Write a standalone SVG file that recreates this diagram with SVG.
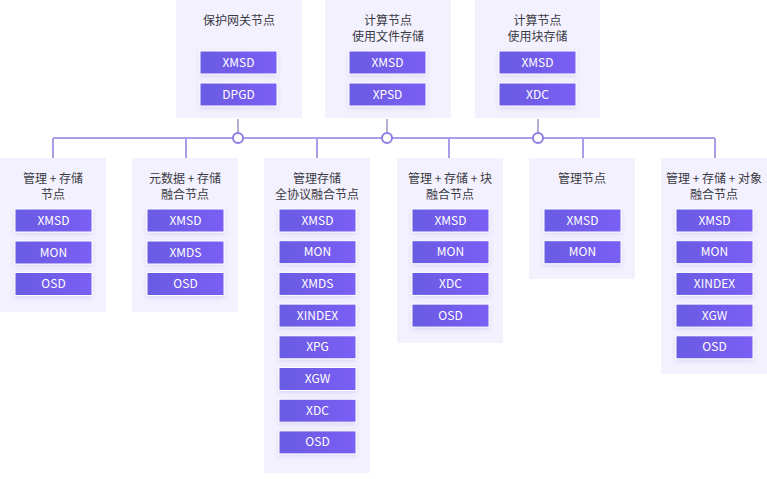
<svg xmlns="http://www.w3.org/2000/svg" width="767" height="479" viewBox="0 0 767 479">
<defs>
<linearGradient id="btnGrad" x1="0" y1="0" x2="1" y2="0">
<stop offset="0" stop-color="#6a5be2"/>
<stop offset="1" stop-color="#7a5ef4"/>
</linearGradient>
<filter id="sh" x="-20%" y="-30%" width="140%" height="170%">
<feDropShadow dx="0" dy="2" stdDeviation="2" flood-color="#6a5be2" flood-opacity="0.18"/>
</filter>
</defs>
<style>
.box{fill:#f3f1fd}
.btn{fill:url(#btnGrad);stroke:#ffffff;stroke-width:1;filter:url(#sh)}
.title{font-family:"Noto Sans CJK SC","Noto Sans",sans-serif;font-size:12px;fill:#3a3a44;text-anchor:middle}
.lbl{font-family:"Noto Sans CJK SC","Noto Sans",sans-serif;font-size:12px;fill:#ffffff;text-anchor:middle}
.ln{stroke:#a99ce8;stroke-width:2;fill:none}
.stem{stroke:#9d94c9;stroke-width:1.5;fill:none}
.dot{fill:#ffffff;stroke:#8d7ce2;stroke-width:2}
</style>
<rect width="767" height="479" fill="#ffffff"/>

<g id="connectors">
<line class="ln" x1="53" y1="138" x2="715" y2="138"/>
<line class="ln" x1="53" y1="138" x2="53" y2="158"/>
<line class="ln" x1="186" y1="138" x2="186" y2="158"/>
<line class="ln" x1="317" y1="138" x2="317" y2="158"/>
<line class="ln" x1="449" y1="138" x2="449" y2="158"/>
<line class="ln" x1="583" y1="138" x2="583" y2="158"/>
<line class="ln" x1="715" y1="138" x2="715" y2="158"/>
<line class="stem" x1="238" y1="119" x2="238" y2="133"/>
<line class="stem" x1="387" y1="119" x2="387" y2="133"/>
<line class="stem" x1="538" y1="119" x2="538" y2="133"/>
<circle class="dot" cx="238" cy="138" r="5"/>
<circle class="dot" cx="387" cy="138" r="5"/>
<circle class="dot" cx="538" cy="138" r="5"/>
</g>

<g id="top-gateway">
<rect class="box" x="176" y="0" width="126" height="118"/>
<text class="title" x="239" y="24.5">保护网关节点</text>
<rect class="btn" x="200" y="51" width="77" height="23"/>
<text class="lbl" x="238.5" y="66.5">XMSD</text>
<rect class="btn" x="200" y="83" width="77" height="23"/>
<text class="lbl" x="238.5" y="98.5">DPGD</text>
</g>

<g id="top-compute-file">
<rect class="box" x="325" y="0" width="126" height="118"/>
<text class="title" x="388" y="24.5">计算节点</text>
<text class="title" x="388" y="40.5">使用文件存储</text>
<rect class="btn" x="349" y="51" width="77" height="23"/>
<text class="lbl" x="387.5" y="66.5">XMSD</text>
<rect class="btn" x="349" y="83" width="77" height="23"/>
<text class="lbl" x="387.5" y="98.5">XPSD</text>
</g>

<g id="top-compute-block">
<rect class="box" x="475" y="0" width="125" height="118"/>
<text class="title" x="537.5" y="24.5">计算节点</text>
<text class="title" x="537.5" y="40.5">使用块存储</text>
<rect class="btn" x="499" y="51" width="77" height="23"/>
<text class="lbl" x="537.5" y="66.5">XMSD</text>
<rect class="btn" x="499" y="83" width="77" height="23"/>
<text class="lbl" x="537.5" y="98.5">XDC</text>
</g>

<g id="node-mgmt-storage">
<rect class="box" x="0" y="158" width="106" height="154"/>
<text class="title" x="53" y="183">管理 + 存储</text>
<text class="title" x="53" y="198.5">节点</text>
<rect class="btn" x="15" y="209" width="77" height="23"/>
<text class="lbl" x="53.5" y="224.5">XMSD</text>
<rect class="btn" x="15" y="241" width="77" height="23"/>
<text class="lbl" x="53.5" y="256.5">MON</text>
<rect class="btn" x="15" y="272.5" width="77" height="23"/>
<text class="lbl" x="53.5" y="288">OSD</text>
</g>

<g id="node-meta-storage">
<rect class="box" x="132" y="158" width="106" height="154"/>
<text class="title" x="185" y="183">元数据 + 存储</text>
<text class="title" x="185" y="198.5">融合节点</text>
<rect class="btn" x="147" y="209" width="77" height="23"/>
<text class="lbl" x="185.5" y="224.5">XMSD</text>
<rect class="btn" x="147" y="241" width="77" height="23"/>
<text class="lbl" x="185.5" y="256.5">XMDS</text>
<rect class="btn" x="147" y="272.5" width="77" height="23"/>
<text class="lbl" x="185.5" y="288">OSD</text>
</g>

<g id="node-all-protocol">
<rect class="box" x="264" y="158" width="106" height="315"/>
<text class="title" x="317" y="183">管理存储</text>
<text class="title" x="317" y="198.5">全协议融合节点</text>
<rect class="btn" x="279" y="209" width="77" height="23"/>
<text class="lbl" x="317.5" y="224.5">XMSD</text>
<rect class="btn" x="279" y="240.7" width="77" height="23"/>
<text class="lbl" x="317.5" y="256.2">MON</text>
<rect class="btn" x="279" y="272.4" width="77" height="23"/>
<text class="lbl" x="317.5" y="287.9">XMDS</text>
<rect class="btn" x="279" y="304.1" width="77" height="23"/>
<text class="lbl" x="317.5" y="319.6">XINDEX</text>
<rect class="btn" x="279" y="335.8" width="77" height="23"/>
<text class="lbl" x="317.5" y="351.3">XPG</text>
<rect class="btn" x="279" y="367.5" width="77" height="23"/>
<text class="lbl" x="317.5" y="383">XGW</text>
<rect class="btn" x="279" y="399.2" width="77" height="23"/>
<text class="lbl" x="317.5" y="414.7">XDC</text>
<rect class="btn" x="279" y="430.9" width="77" height="23"/>
<text class="lbl" x="317.5" y="446.4">OSD</text>
</g>

<g id="node-mgmt-storage-block">
<rect class="box" x="397" y="158" width="106" height="185"/>
<text class="title" x="450" y="183">管理 + 存储 + 块</text>
<text class="title" x="450" y="198.5">融合节点</text>
<rect class="btn" x="412" y="209" width="77" height="23"/>
<text class="lbl" x="450.5" y="224.5">XMSD</text>
<rect class="btn" x="412" y="240.7" width="77" height="23"/>
<text class="lbl" x="450.5" y="256.2">MON</text>
<rect class="btn" x="412" y="272.4" width="77" height="23"/>
<text class="lbl" x="450.5" y="287.9">XDC</text>
<rect class="btn" x="412" y="304.1" width="77" height="23"/>
<text class="lbl" x="450.5" y="319.6">OSD</text>
</g>

<g id="node-mgmt">
<rect class="box" x="529" y="158" width="106" height="121"/>
<text class="title" x="582" y="182.5">管理节点</text>
<rect class="btn" x="544" y="209" width="77" height="23"/>
<text class="lbl" x="582.5" y="224.5">XMSD</text>
<rect class="btn" x="544" y="240.7" width="77" height="23"/>
<text class="lbl" x="582.5" y="256.2">MON</text>
</g>

<g id="node-mgmt-storage-object">
<rect class="box" x="661" y="158" width="106" height="216"/>
<text class="title" x="714" y="183">管理 + 存储 + 对象</text>
<text class="title" x="714" y="198.5">融合节点</text>
<rect class="btn" x="676" y="209" width="77" height="23"/>
<text class="lbl" x="714.5" y="224.5">XMSD</text>
<rect class="btn" x="676" y="240.7" width="77" height="23"/>
<text class="lbl" x="714.5" y="256.2">MON</text>
<rect class="btn" x="676" y="272.4" width="77" height="23"/>
<text class="lbl" x="714.5" y="287.9">XINDEX</text>
<rect class="btn" x="676" y="304.1" width="77" height="23"/>
<text class="lbl" x="714.5" y="319.6">XGW</text>
<rect class="btn" x="676" y="335.8" width="77" height="23"/>
<text class="lbl" x="714.5" y="351.3">OSD</text>
</g>
</svg>
